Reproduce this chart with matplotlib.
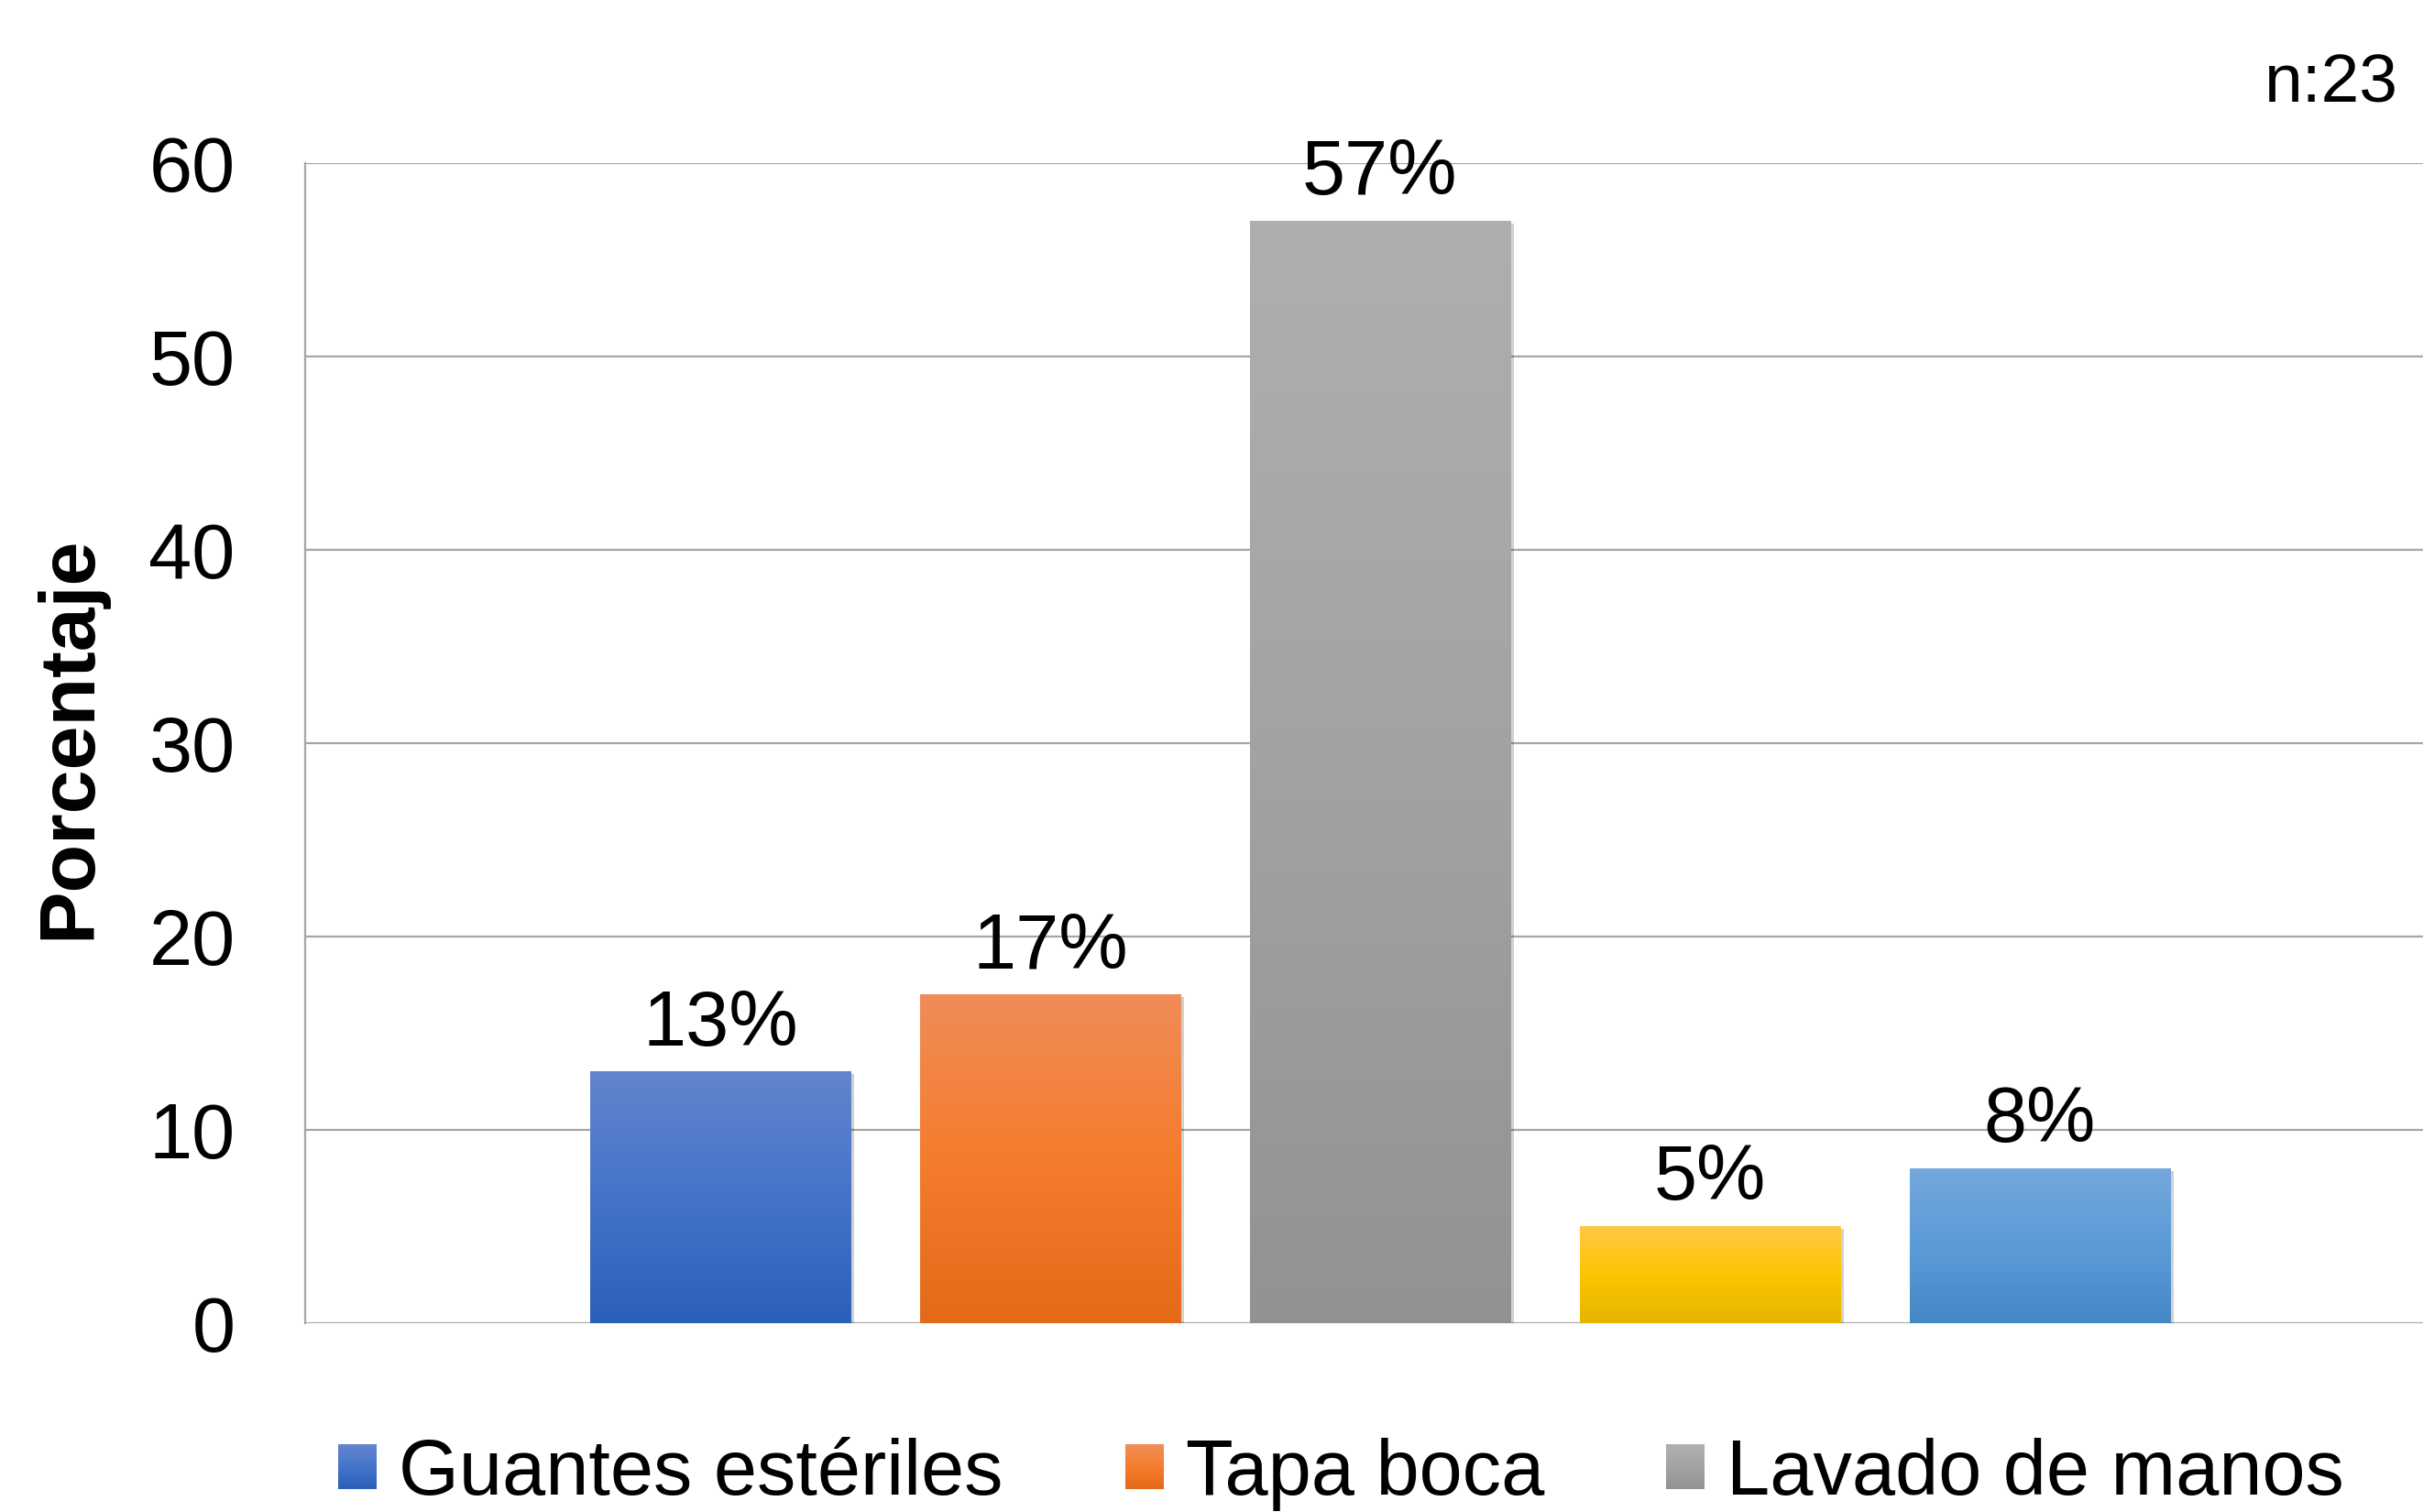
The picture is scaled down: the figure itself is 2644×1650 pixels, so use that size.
import matplotlib
matplotlib.use("Agg")
import matplotlib.pyplot as plt
import matplotlib.patheffects as pe
from matplotlib.colors import LinearSegmentedColormap
from matplotlib.legend_handler import HandlerBase
from matplotlib.patches import Rectangle
import numpy as np

# --- Datos ---
categorias = ["Guantes estériles", "Tapa boca", "Lavado de manos", "Otro 1", "Otro 2"]
valores = [13, 17, 57, 5, 8]
etiquetas = ["13%", "17%", "57%", "5%", "8%"]
ticks_y = [0, 10, 20, 30, 40, 50, 60]
en_leyenda = 3  # solo se ven las tres primeras entradas de la leyenda

# degradados (arriba, medio, abajo)
degradados = [
    ("#6285CC", "#4573CA", "#2C5FBA"),
    ("#F08C58", "#F47C2C", "#E26A19"),
    ("#AFAFAF", "#A2A2A2", "#929292"),
    ("#FFC845", "#FDC500", "#E5B500"),
    ("#75A8DC", "#5B9BD8", "#4588C6"),
]


def mapa(d):
    return LinearSegmentedColormap.from_list("g", [d[2], d[1], d[0]])


class HandlerDegradado(HandlerBase):
    """Cuadro de leyenda con el mismo degradado que la barra."""
    def create_artists(self, legend, orig_handle, xdescent, ydescent,
                       width, height, fontsize, trans):
        cmap = orig_handle.cmap_degradado
        n = 24
        piezas = []
        for k in range(n):
            r = Rectangle((-xdescent, -ydescent + height * k / n), width, height / n + 0.3,
                          facecolor=cmap(k / (n - 1)), edgecolor="none", transform=trans)
            piezas.append(r)
        return piezas


plt.rcParams["font.family"] = ["Liberation Sans", "DejaVu Sans"]

W, H = 2644, 1650
fig = plt.figure(figsize=(W / 100, H / 100), dpi=100)

# ejes en pixeles del original
izq, der, arriba, abajo = 333, 2644, 178, 1444
ax = fig.add_axes([izq / W, 1 - abajo / H, (der - izq) / W, (abajo - arriba) / H])

x = np.arange(len(valores))
ancho = 0.79
barras = ax.bar(x, valores, width=ancho, color=[d[1] for d in degradados], zorder=3)

# sombra suave y relleno con degradado vertical
for b, d in zip(barras, degradados):
    b.set_path_effects([pe.SimplePatchShadow(offset=(3, -2), shadow_rgbFace="#000000", alpha=0.18),
                        pe.Normal()])
    grad = np.linspace(0, 1, 256).reshape(-1, 1)
    x0, y0 = b.get_x(), b.get_y()
    ax.imshow(grad, cmap=mapa(d), origin="lower", aspect="auto", zorder=4,
              extent=[x0, x0 + b.get_width(), y0, y0 + b.get_height()])

# etiquetas de datos
for xi, v, t in zip(x, valores, etiquetas):
    ax.annotate(t, (xi, v), xytext=(0, 8), textcoords="offset points",
                ha="center", va="bottom", fontsize=61, color="black", zorder=5)

ax.set_xlim(-1.258, -1.258 + (der - izq) / 360)
ax.set_ylim(0, 60)
ax.set_yticks(ticks_y)
ax.set_xticks([])
ax.tick_params(axis="y", length=0, pad=55, labelsize=61)
ax.grid(axis="y", color="#A6A6A6", linewidth=1.6, zorder=0)
ax.set_axisbelow(True)
for s in ["top", "right", "bottom"]:
    ax.spines[s].set_visible(False)
ax.spines["left"].set_color("#A6A6A6")
ax.spines["left"].set_linewidth(1.6)

fig.text(76 / W, 1 - 805 / H, "Porcentaje", rotation=90, fontsize=62, fontweight="bold",
         ha="center", va="center")
fig.text(2617 / W, 1 - 112 / H, "n:23", fontsize=54, ha="right", va="baseline")

# leyenda inferior
handles = []
for i in range(en_leyenda):
    h = Rectangle((0, 0), 1, 1, color=degradados[i][1])
    h.cmap_degradado = mapa(degradados[i])
    handles.append(h)
fig.legend(handles, categorias[:en_leyenda], loc="lower left",
           bbox_to_anchor=(369 / W, 1 / H), ncol=en_leyenda, frameon=False,
           fontsize=61, handlelength=0.5, handleheight=0.5, handletextpad=0.28,
           columnspacing=1.57, borderpad=0, borderaxespad=0,
           handler_map={Rectangle: HandlerDegradado()})

fig.savefig("out.png", dpi=100)
